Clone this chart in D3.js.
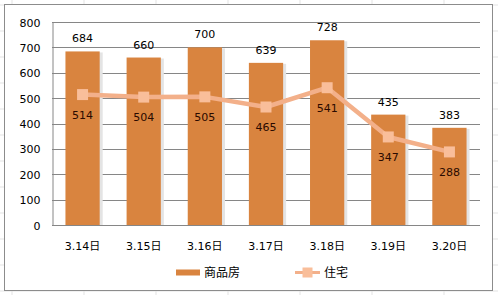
<!DOCTYPE html>
<html><head><meta charset="utf-8">
<script src="https://cdn.jsdelivr.net/npm/d3@7/dist/d3.min.js"></script>
<style>body{margin:0;background:#fff;}svg{display:block;}text{font-family:"DejaVu Sans","Noto Sans CJK SC",sans-serif;}</style>
</head><body>
<svg id="c" width="498" height="295"></svg>
<script>
const categories = ["3.14日","3.15日","3.16日","3.17日","3.18日","3.19日","3.20日"];
const barValues = [684,660,700,639,728,435,383];
const lineValues = [514,504,505,465,541,347,288];
const yTicks = [0,100,200,300,400,500,600,700,800];
const seriesNames = ["商品房","住宅"];

const svg = d3.select("#c");
const W=498,H=295;
// spreadsheet background grid
const bg = svg.append("g");
for(let x=12;x<W;x+=72) bg.append("line").attr("x1",x).attr("x2",x).attr("y1",0).attr("y2",H).attr("stroke","#e3e3e3");
for(let y=5;y<H;y+=26) bg.append("line").attr("x1",0).attr("x2",W).attr("y1",y).attr("y2",y).attr("stroke","#e3e3e3");
// chart frame
svg.append("rect").attr("x",4.5).attr("y",4.5).attr("width",488).attr("height",286).attr("fill","#fff").attr("stroke","#8c8c8c");

const m={l:52,r:480,t:22,b:225};
const x=d3.scaleBand().domain(categories).range([m.l,m.r]).paddingInner(0.44).paddingOuter(0.22);
const y=d3.scaleLinear().domain([0,800]).range([m.b,m.t]);

// gridlines
svg.append("g").selectAll("line").data(yTicks.filter(d=>d>0)).join("line")
 .attr("x1",m.l).attr("x2",m.r).attr("y1",d=>Math.round(y(d))+0.5).attr("y2",d=>Math.round(y(d))+0.5)
 .attr("stroke","#868686");
// y axis
const ya=svg.append("g").attr("transform",`translate(${m.l+0.5},0.5)`).call(d3.axisLeft(y).tickValues(yTicks).tickSize(0).tickPadding(12));
ya.select(".domain").attr("stroke","#868686");
ya.selectAll("text").attr("font-size",11).attr("fill","#000").attr("font-family","DejaVu Sans");

// bars shadow
svg.append("g").selectAll("rect").data(barValues).join("rect")
 .attr("x",(d,i)=>x(categories[i])+1).attr("y",d=>y(d)+1).attr("width",x.bandwidth()+2).attr("height",d=>m.b-y(d)-1)
 .attr("fill","#e4e4e4");
svg.append("g").selectAll("rect").data(barValues).join("rect")
 .attr("x",(d,i)=>x(categories[i])).attr("y",d=>y(d)).attr("width",x.bandwidth()).attr("height",d=>m.b-y(d))
 .attr("fill","#D9843F");

// x axis
const xa=svg.append("g").attr("transform",`translate(0,${m.b+0.5})`).call(d3.axisBottom(x).tickSize(0).tickPadding(17));
xa.select(".domain").attr("stroke","#868686").attr("d",`M${m.l},0H${m.r}`);
xa.selectAll("text").attr("font-size",11).attr("fill","#000");

// bar labels
svg.append("g").selectAll("text").data(barValues).join("text")
 .attr("x",(d,i)=>x(categories[i])+x.bandwidth()/2).attr("y",d=>y(d)-9)
 .attr("text-anchor","middle").attr("font-size",11).attr("fill","#000").text(d=>d);

// line
const cx=i=>x(categories[i])+x.bandwidth()/2;
svg.append("path").datum(lineValues).attr("fill","none").attr("stroke","#F3B08A").attr("stroke-width",4.5)
 .attr("stroke-linejoin","round")
 .attr("d",d3.line().x((d,i)=>cx(i)).y(d=>y(d)));
svg.append("g").selectAll("rect").data(lineValues).join("rect")
 .attr("x",(d,i)=>cx(i)-5.5).attr("y",d=>y(d)-5.5).attr("width",11).attr("height",11).attr("fill","#F9BE9A");
svg.append("g").selectAll("text").data(lineValues).join("text")
 .attr("x",(d,i)=>cx(i)).attr("y",d=>y(d)+24)
 .attr("text-anchor","middle").attr("font-size",11).attr("fill","#2a0a00").text(d=>d);

// legend
const lg=svg.append("g");
lg.append("rect").attr("x",176).attr("y",269.5).attr("width",24).attr("height",6).attr("fill","#D9843F");
lg.append("text").attr("x",204).attr("y",277).attr("font-size",12).attr("font-family","Noto Sans CJK SC").text(seriesNames[0]);
lg.append("line").attr("x1",295).attr("x2",320).attr("y1",272.5).attr("y2",272.5).attr("stroke","#F3B08A").attr("stroke-width",3);
lg.append("rect").attr("x",302.5).attr("y",267.5).attr("width",10).attr("height",10).attr("fill","#F9BE9A");
lg.append("text").attr("x",324).attr("y",277).attr("font-size",12).attr("font-family","Noto Sans CJK SC").text(seriesNames[1]);
</script>
</body></html>
